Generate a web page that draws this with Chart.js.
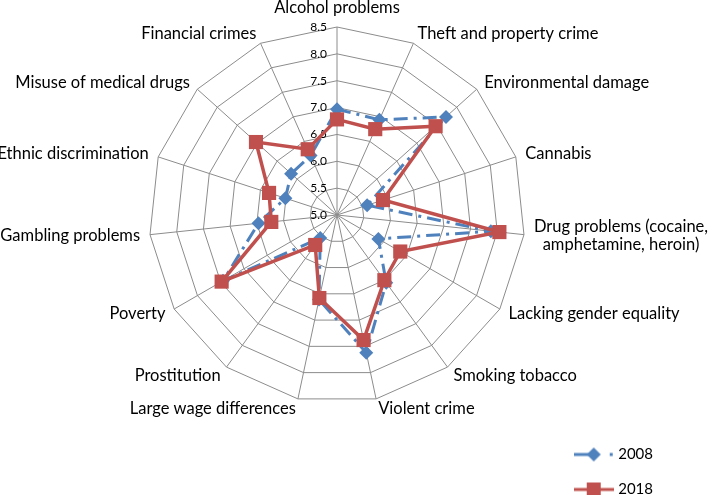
<!DOCTYPE html>
<html>
<head>
<meta charset="utf-8">
<script src="https://cdn.jsdelivr.net/npm/chart.js@4/dist/chart.umd.min.js"></script>
<style>
  html, body { margin: 0; padding: 0; background: #fff; }
  #wrap { width: 709px; height: 495px; position: relative; }
</style>
</head>
<body>
<div id="wrap"><canvas id="radar"></canvas></div>
<script>
// chart data
const categories = [
  "Alcohol problems",
  "Theft and property crime",
  "Environmental damage",
  "Cannabis",
  ["Drug problems (cocaine,", "amphetamine, heroin)"],
  "Lacking gender equality",
  "Smoking tobacco",
  "Violent crime",
  "Large wage differences",
  "Prostitution",
  "Poverty",
  "Gambling problems",
  "Ethnic discrimination",
  "Misuse of medical drugs",
  "Financial crimes"
];
const values2008 = [6.97, 6.94, 7.73, 5.59, 7.88, 5.89, 6.56, 7.62, 6.61, 5.53, 7.45, 6.47, 6.01, 6.15, 6.21];
const values2018 = [6.78, 6.75, 7.47, 5.90, 8.04, 6.36, 6.50, 7.38, 6.58, 5.69, 7.48, 6.23, 6.33, 7.03, 6.34];
const tickValues = [5.0, 5.5, 6.0, 6.5, 7.0, 7.5, 8.0, 8.5];
const tickLabels = ["5.0", "5.5", "6.0", "6.5", "7.0", "7.5", "8.0", "8.5"];

const blue = "#4F81BD";
const red = "#C0504D";

Chart.defaults.font.family = "Lato";
Chart.defaults.color = "#000";

// legend sample: line with a marker in the middle
function legendIcon(color, dash, marker) {
  const c = document.createElement("canvas");
  c.width = 40;
  c.height = 16;
  const g = c.getContext("2d");
  g.strokeStyle = color;
  g.fillStyle = color;
  g.lineWidth = 3;
  g.setLineDash(dash);
  g.beginPath();
  g.moveTo(0, 8);
  g.lineTo(40, 8);
  g.stroke();
  g.beginPath();
  if (marker === "diamond") {
    g.moveTo(20, 1);
    g.lineTo(27, 8);
    g.lineTo(20, 15);
    g.lineTo(13, 8);
  } else {
    g.rect(13, 1, 14, 14);
  }
  g.fill();
  return c;
}

const icons = [
  legendIcon(blue, [15, 21, 3, 20], "diamond"),
  legendIcon(red, [], "square")
];

// value labels left of the vertical axis, category labels round the web
const labelPlugin = {
  id: "radarLabels",
  beforeDatasetsDraw(chart) {
    const s = chart.scales.r;
    const ctx = chart.ctx;
    ctx.save();
    ctx.font = "12px Lato";
    ctx.fillStyle = "#000";
    ctx.textAlign = "right";
    ctx.textBaseline = "middle";
    tickValues.forEach((v, i) => {
      const y = s.yCenter - s.getDistanceFromCenterForValue(v);
      ctx.fillText(tickLabels[i], s.xCenter - 10, y);
    });

    ctx.font = "16.5px Lato";
    const n = chart.data.labels.length;
    const lineH = 18;
    chart.data.labels.forEach((label, i) => {
      const lines = Array.isArray(label) ? label : [label];
      const deg = (360 / n) * i;
      const p = s.getPointPosition(i, s.drawingArea + 10);
      const blockW = Math.max(...lines.map(t => ctx.measureText(t).width));
      let left;
      if (deg === 0 || deg === 180) left = p.x - blockW / 2;
      else if (deg < 180) left = p.x;
      else left = p.x - blockW;
      let top;
      if (deg === 0) top = p.y - lines.length * lineH;
      else if (deg === 180) top = p.y;
      else top = p.y - (lines.length * lineH) / 2;
      ctx.textAlign = "center";
      lines.forEach((t, k) => {
        ctx.fillText(t, left + blockW / 2, top + lineH * k + lineH / 2);
      });
    });
    ctx.restore();
  },
  afterUpdate(chart) {
    // push the legend down to the bottom corner
    chart.legend.top += 22;
    chart.legend.bottom += 22;
  }
};

new Chart(document.getElementById("radar"), {
  type: "radar",
  data: {
    labels: categories,
    datasets: [
      {
        label: "2008",
        data: values2008,
        borderColor: blue,
        backgroundColor: blue,
        borderWidth: 3,
        borderDash: [14, 6, 3, 6],
        pointStyle: "rectRot",
        pointRadius: 7,
        pointBorderWidth: 0,
        pointBackgroundColor: blue,
        fill: false,
        order: 2,
        clip: false
      },
      {
        label: "2018",
        data: values2018,
        borderColor: red,
        backgroundColor: red,
        borderWidth: 3.5,
        pointStyle: "rect",
        pointRadius: 10,
        pointBorderWidth: 0,
        pointBackgroundColor: red,
        fill: false,
        order: 1,
        clip: false
      }
    ]
  },
  options: {
    responsive: true,
    maintainAspectRatio: false,
    animation: false,
    layout: { padding: { right: 46 } },
    scales: {
      r: {
        min: 5,
        max: 8.5,
        ticks: { stepSize: 0.5, display: false },
        grid: { color: "#8c8c8c", lineWidth: 1 },
        angleLines: { color: "#8c8c8c", lineWidth: 1 },
        pointLabels: { display: false },
        afterSetDimensions(scale) {
          scale.xCenter = 337;
          scale.yCenter = 215;
          scale.drawingArea = 188;
        }
      }
    },
    plugins: {
      tooltip: { enabled: false },
      legend: {
        position: "right",
        align: "end",
        labels: {
          usePointStyle: true,
          pointStyleWidth: 34,
          padding: 20,
          font: { size: 15 },
          color: "#000",
          generateLabels(chart) {
            return chart.data.datasets.map((ds, i) => ({
              text: ds.label,
              pointStyle: icons[i],
              datasetIndex: i,
              fillStyle: ds.borderColor,
              strokeStyle: ds.borderColor,
              lineWidth: 0,
              hidden: false
            }));
          }
        }
      }
    }
  },
  plugins: [labelPlugin]
});
</script>
</body>
</html>
